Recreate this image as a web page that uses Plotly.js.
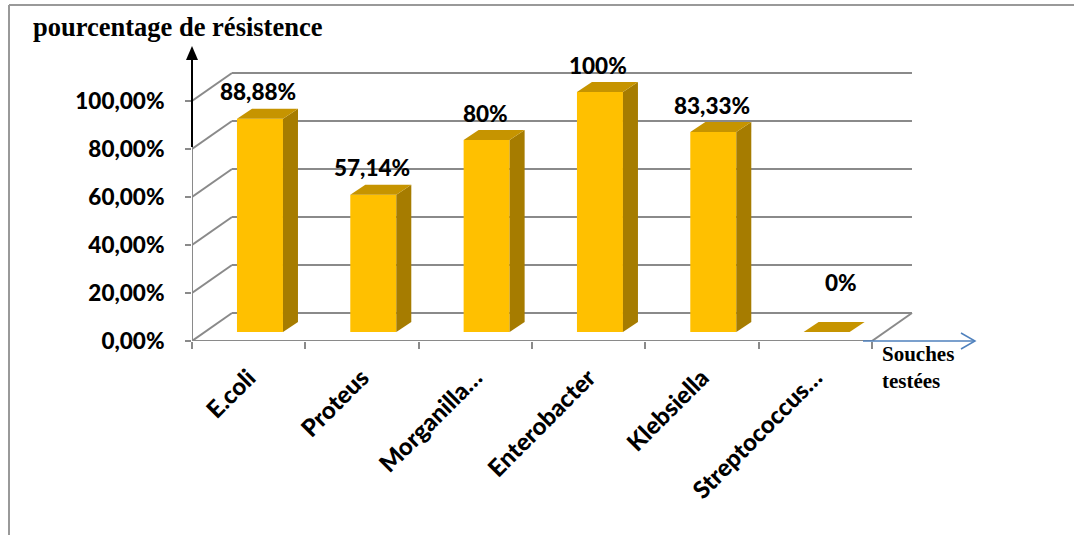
<!DOCTYPE html>
<html>
<head>
<meta charset="utf-8">
<script src="https://cdn.plot.ly/plotly-3.0.1.min.js"></script>
<style>html,body{margin:0;padding:0;background:#fff;}#chart{width:1074px;height:535px;}</style>
</head>
<body>
<div id="chart"></div>
<script>
// ---- data ----
const categories = ['E.coli', 'Proteus', 'Morganilla…', 'Enterobacter', 'Klebsiella', 'Streptococcus…'];
const values = [0.8888, 0.5714, 0.80, 1.00, 0.8333, 0];
const valueLabels = ['88,88%', '57,14%', '80%', '100%', '83,33%', '0%'];
const yTickVals = [0, 0.2, 0.4, 0.6, 0.8, 1.0];
const yTickText = ['0,00%', '20,00%', '40,00%', '60,00%', '80,00%', '100,00%'];
const titleText = 'pourcentage de résistence';
const xTitleText = 'Souches<br>testées';

// ---- geometry (pixel layout) ----
const W = 1074, H = 535;
const L = 192, R = 94, T = 47, B = 194;
const PW = W - L - R, PH = H - T - B;
const PXU = 113.33;           // px per category
const PYU = 240;              // px per 100 %
const xr = [-0.5, -0.5 + PW / PXU];
const yr = [0, PH / PYU];
const wallDx = 40 / PXU, wallDy = 28 / PYU;
const barOffX = 11.3 / PXU, barOffY = 9 / PYU;
const barW = 46 / PXU;
const depDx = 15 / PXU, depDy = 10 / PYU;

const gridCol = '#8a8a8a';
const frontCol = '#FFC000', sideCol = '#A67C00', topCol = '#C69400';
const sansFont = 'Lato';

function px(x) { return (x - L) / PW; }
function py(y) { return (H - B - y) / PH; }

const shapes = [];
const nCat = categories.length;
const xLeft = -0.5, xRight = nCat - 0.5;
yTickVals.forEach(v => {
  shapes.push({type: 'line', xref: 'x', yref: 'y', x0: xLeft + wallDx, x1: xRight + wallDx, y0: v + wallDy, y1: v + wallDy,
    line: {color: gridCol, width: 2}, layer: 'below'});
  shapes.push({type: 'line', xref: 'x', yref: 'y', x0: xLeft, x1: xLeft + wallDx, y0: v, y1: v + wallDy,
    line: {color: gridCol, width: 2}, layer: 'below'});
});
shapes.push({type: 'line', xref: 'x', yref: 'y', x0: xLeft, x1: xRight, y0: 0, y1: 0, line: {color: gridCol, width: 2}, layer: 'below'});
shapes.push({type: 'line', xref: 'x', yref: 'y', x0: xRight, x1: xRight + wallDx, y0: 0, y1: wallDy, line: {color: gridCol, width: 2}, layer: 'below'});
shapes.push({type: 'line', xref: 'x', yref: 'y', x0: xLeft, x1: xLeft, y0: 0, y1: yTickVals[yTickVals.length - 1], line: {color: gridCol, width: 2}, layer: 'below'});

values.forEach((v, i) => {
  const x0 = i + barOffX - barW / 2, x1 = i + barOffX + barW / 2;
  const b = barOffY, t = barOffY + v;
  if (v > 0) {
    shapes.push({type: 'path', xref: 'x', yref: 'y',
      path: `M${x1},${b} L${x1},${t} L${x1 + depDx},${t + depDy} L${x1 + depDx},${b + depDy} Z`,
      fillcolor: sideCol, line: {width: 0}, layer: 'above'});
  }
  shapes.push({type: 'path', xref: 'x', yref: 'y',
    path: `M${x0},${t} L${x1},${t} L${x1 + depDx},${t + depDy} L${x0 + depDx},${t + depDy} Z`,
    fillcolor: topCol, line: {width: 0}, layer: 'above'});
});

// frame (top and left edges visible)
shapes.push({type: 'line', xref: 'paper', yref: 'paper', x0: px(9), x1: px(1074), y0: py(5), y1: py(5), line: {color: '#999999', width: 2}});
shapes.push({type: 'line', xref: 'paper', yref: 'paper', x0: px(9), x1: px(9), y0: py(5), y1: py(535), line: {color: '#999999', width: 2}});
// black vertical arrow
shapes.push({type: 'line', xref: 'paper', yref: 'paper', x0: px(192), x1: px(192), y0: py(147), y1: py(56), line: {color: '#000', width: 2}});
shapes.push({type: 'path', xref: 'paper', yref: 'paper',
  path: `M${px(186)},${py(60)} L${px(198)},${py(60)} L${px(192)},${py(46)} Z`, fillcolor: '#000', line: {width: 0}});
// blue horizontal arrow
shapes.push({type: 'line', xref: 'paper', yref: 'paper', x0: px(863), x1: px(975), y0: py(341), y1: py(341), line: {color: '#4F81BD', width: 1.5}});
shapes.push({type: 'path', xref: 'paper', yref: 'paper',
  path: `M${px(961)},${py(333)} L${px(975)},${py(341)} L${px(961)},${py(349)}`, line: {color: '#4F81BD', width: 1.5}});

const annotations = values.map((v, i) => ({
  xref: 'x', yref: 'y', x: i + barOffX + depDx / 2 - 0.08, y: barOffY + v + depDy,
  text: valueLabels[i], showarrow: false, xanchor: 'center', yanchor: 'middle',
  yshift: v > 0 ? 17 : 40, xshift: v > 0 ? 0 : 16,
  font: {family: sansFont, size: 22.5, color: '#000', weight: 900}
}));
annotations.push({
  xref: 'paper', yref: 'paper', x: px(880), y: py(367), xanchor: 'left', yanchor: 'middle', align: 'left',
  text: '<b>' + xTitleText + '</b>', showarrow: false,
  font: {family: 'Liberation Serif', size: 21, color: '#000'}
});

const trace = {
  type: 'bar',
  x: values.map((v, i) => i + barOffX),
  y: values,
  base: values.map(() => barOffY),
  width: barW,
  marker: {color: frontCol, line: {width: 0}},
  hoverinfo: 'skip'
};

const layout = {
  width: W, height: H,
  margin: {l: L, r: R, t: T, b: B, autoexpand: false},
  paper_bgcolor: '#fff', plot_bgcolor: 'rgba(0,0,0,0)',
  showlegend: false,
  title: {text: '<b>' + titleText + '</b>', x: 33 / W, xanchor: 'left', xref: 'container',
    y: 1 - 27 / H, yanchor: 'middle', yref: 'container',
    font: {family: 'Liberation Serif', size: 26.5, color: '#000'}},
  xaxis: {
    range: xr, showgrid: false, zeroline: false, showline: false, automargin: false,
    tickmode: 'array', tickvals: categories.map((c, i) => i), ticktext: categories,
    ticks: '', tickangle: -45, ticklabelstandoff: 17,
    tickfont: {family: sansFont, size: 24, color: '#000', weight: 900},
    minor: {tickmode: 'array', tickvals: categories.map((c, i) => i - 0.5).concat([nCat - 0.5]),
      ticks: 'outside', ticklen: 7, tickwidth: 2, tickcolor: gridCol, showgrid: false}
  },
  yaxis: {
    range: yr, showgrid: false, zeroline: false, showline: false, automargin: false,
    tickmode: 'array', tickvals: yTickVals, ticktext: yTickText,
    ticks: 'outside', ticklen: 6, tickwidth: 2, tickcolor: gridCol,
    ticklabelstandoff: 16,
    tickfont: {family: sansFont, size: 22.5, color: '#000', weight: 900}
  },
  shapes: shapes,
  annotations: annotations
};

Plotly.newPlot('chart', [trace], layout, {staticPlot: true, displayModeBar: false});
</script>
</body>
</html>
